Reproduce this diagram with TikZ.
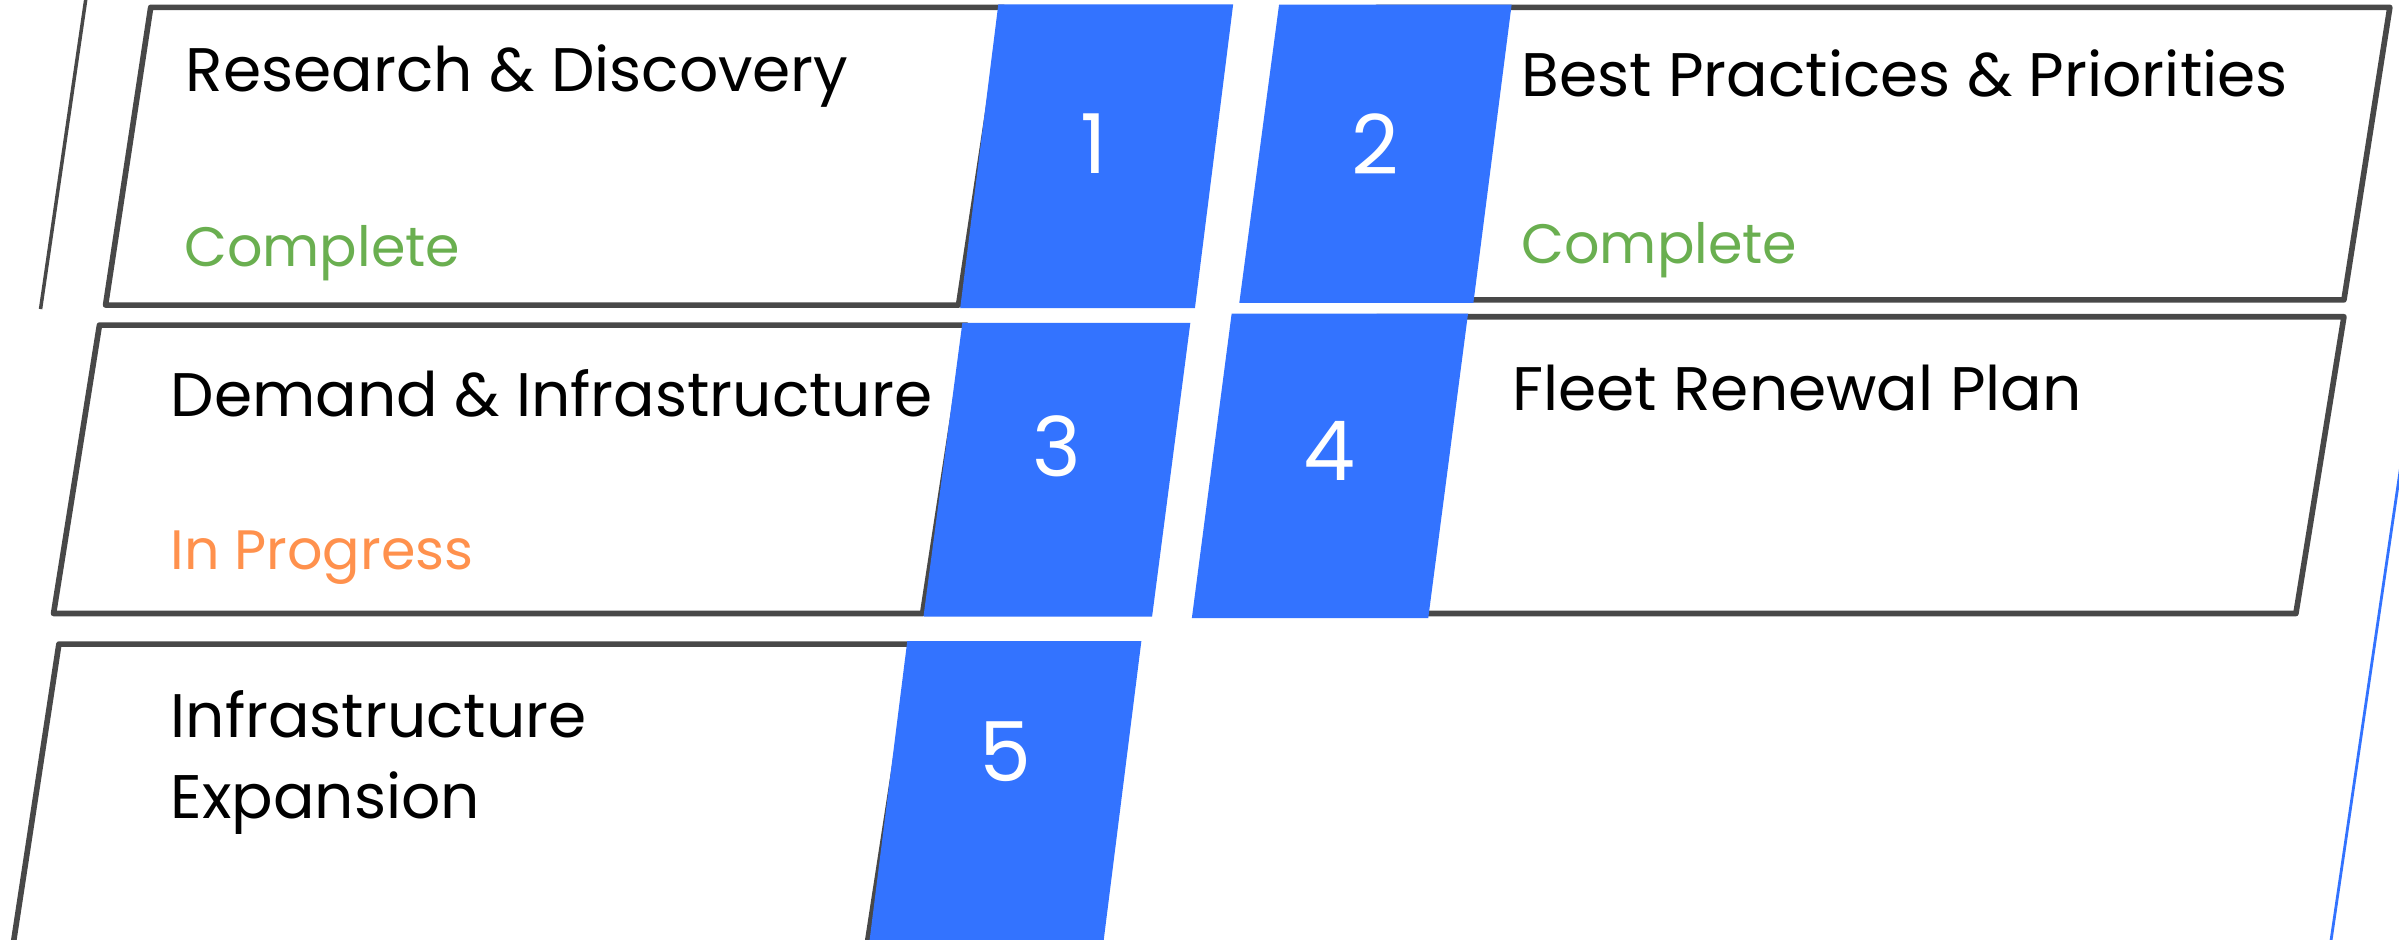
\documentclass[tikz,border=0pt]{standalone}
\usepackage{fontspec}
\setmainfont{Poppins}
\definecolor{tabblue}{HTML}{3373FF}
\definecolor{framegray}{HTML}{484848}
\definecolor{donegreen}{HTML}{6AAF50}
\definecolor{busyorange}{HTML}{FF914D}
\tikzset{
  frame/.style={draw=framegray, line width=1.6pt, line join=round},
  tab/.style={fill=tabblue},
  title/.style={anchor=base west, inner sep=0pt, text=black,
    font=\fontsize{17.5}{23}\selectfont, align=left},
  status/.style={anchor=base west, inner sep=0pt,
    font=\fontsize{15.8}{20}\selectfont},
  num/.style={inner sep=0pt, text=white, font=\fontsize{23.5}{28}\selectfont}
}
\begin{document}
\begin{tikzpicture}[x=0.0153cm, y=-0.0153cm]
  \clip (0,0) rectangle (1568,614);
  % frames
  \draw[framegray, line width=1pt] (56,0) -- (26.5,202);
  \draw[frame] (98.5,4.8) -- (656,4.8) -- (626.5,199.4) -- (69,199.4) -- cycle;
  \draw[frame] (900,4.8) -- (1562,4.8) -- (1532,196) -- (871,196) -- cycle;
  \draw[frame] (65,212.5) -- (632,212.5) -- (603,401) -- (35,401) -- cycle;
  \draw[frame] (900,207) -- (1532,207) -- (1500.6,401) -- (870,401) -- cycle;
  \draw[frame] (38.5,421) -- (597,421) -- (554,700) -- (-4,700) -- cycle;
  \draw[tabblue, line width=0.8pt] (1614,0) -- (1511,700);
  % number tabs
  \fill[tab] (652.5,2.8) -- (806,2.8) -- (781,201.4) -- (627.6,201.4) -- cycle;
  \fill[tab] (836,3) -- (988,3) -- (963,198) -- (810,198) -- cycle;
  \fill[tab] (629,211) -- (778,211) -- (753,403) -- (603.6,403) -- cycle;
  \fill[tab] (805,205) -- (959.5,205) -- (933.5,404) -- (779,404) -- cycle;
  \fill[tab] (593,419) -- (746,419) -- (710.6,700) -- (557.6,700) -- cycle;
  \node (n1) [num] at (715,94) {1};
  \node (n2) [num] at (899,94) {2};
  \node (n3) [num] at (691,292) {3};
  \node (n4) [num] at (869,295) {4};
  \node (n5) [num] at (657,491) {5};
  % labels
  \node (rd) [title] at (121,60) {Research \& Discovery};
  \node (rds) [status, text=donegreen] at (120,174.5) {Complete};
  \node (bp) [title] at (994,63) {Best Practices \& Priorities};
  \node (bps) [status, text=donegreen] at (994,172) {Complete};
  \node (di) [title] at (111,272.5) {Demand \& Infrastructure};
  \node (dis) [status, text=busyorange] at (111,372.5) {In Progress};
  \node (fr) [title] at (988,268.6) {Fleet Renewal Plan};
  \node (ie) [title] at (111,535) {Infrastructure\\Expansion};
\end{tikzpicture}
\end{document}
